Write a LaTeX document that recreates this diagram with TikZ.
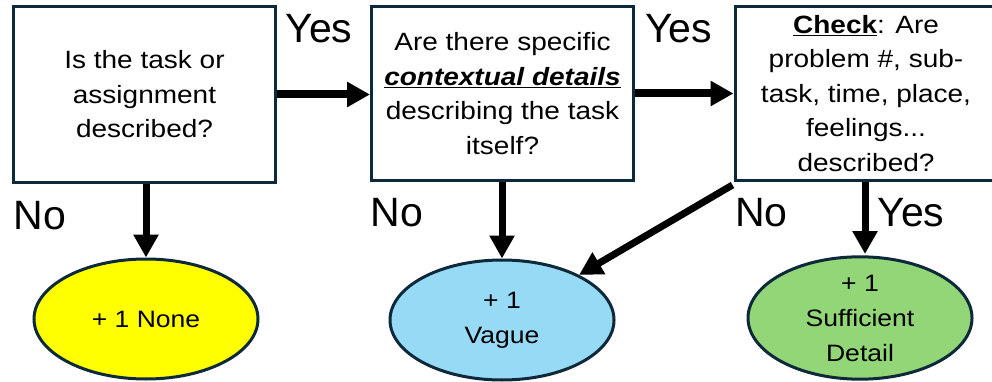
\documentclass[tikz,border=0pt]{standalone}
\usepackage{fontspec}
\setmainfont{Liberation Sans}[FakeStretch=1.12]
\newfontfamily\labfont{Liberation Sans}
\usetikzlibrary{arrows.meta,shapes.geometric}
\definecolor{bord}{HTML}{0E2A3A}
\definecolor{yel}{HTML}{FFFF00}
\definecolor{blu}{HTML}{97DAF6}
\definecolor{grn}{HTML}{92D677}
\begin{document}
\begin{tikzpicture}[x=1pt,y=-1pt,
 qbox/.style={draw=bord,line width=3pt,fill=white,minimum width=262pt,minimum height=174pt,inner sep=0pt,align=center,font=\fontsize{25}{34.5}\selectfont},
 res/.style={ellipse,draw=bord,line width=3pt,minimum width=224pt,minimum height=120pt,inner sep=0pt,align=center,font=\fontsize{23.7}{35}\selectfont},
 arr/.style={line width=7pt,-{Triangle[length=23pt,width=24pt]}},
 harr/.style={line width=8pt,-{Triangle[length=23pt,width=24pt]}},
 lab/.style={font=\labfont\fontsize{41}{41}\selectfont,inner sep=0pt,anchor=base}]
\useasboundingbox (0,0) rectangle (992,382);
\clip (0,0) rectangle (992,382);
\fill[white] (0,0) rectangle (992,382);

\node[qbox,minimum height=176pt] (b1) at (144.5,94.5) {Is the task or\\assignment\\described?};
\node[qbox] (b2) at (502.5,93.5) {Are there specific\\\underline{\textbf{\textit{contextual details}}}\\describing the task\\itself?};
\node[qbox] (b3) at (866,93.5) {\underline{\textbf{Check}}: Are\\problem \#, sub-\\task, time, place,\\feelings...\\described?};

\node[res,fill=yel] (e1) at (146,319) {+ 1 None};
\node[res,fill=blu] (e2) at (502,320) {+ 1\\Vague};
\node[res,fill=grn] (e3) at (860,318) {+ 1\\Sufficient\\Detail};

\draw[harr] (b1.east) -- (b2.west |- b1.east);
\draw[harr] (b2.east) -- (b3.west |- b2.east);
\draw[arr] (b1.south -| e1.north) -- (e1.north);
\draw[arr] (b2.south -| e2.north) -- (e2.north);
\draw[arr] (b3.south -| 865,0) -- (865,254);
\coordinate (d0) at ([shift={(-1,3)}]b3.south west);
\draw[arr] (d0) -- (e2);

\node[lab] (y1) at (319,43) {Yes};
\node[lab] (y2) at (678.5,43) {Yes};
\node[lab] (n1) at (40,229) {No};
\node[lab] (n2) at (397,226) {No};
\node[lab] (n3) at (761.5,226) {No};
\node[lab] (y3) at (911,226) {Yes};
\end{tikzpicture}
\end{document}
